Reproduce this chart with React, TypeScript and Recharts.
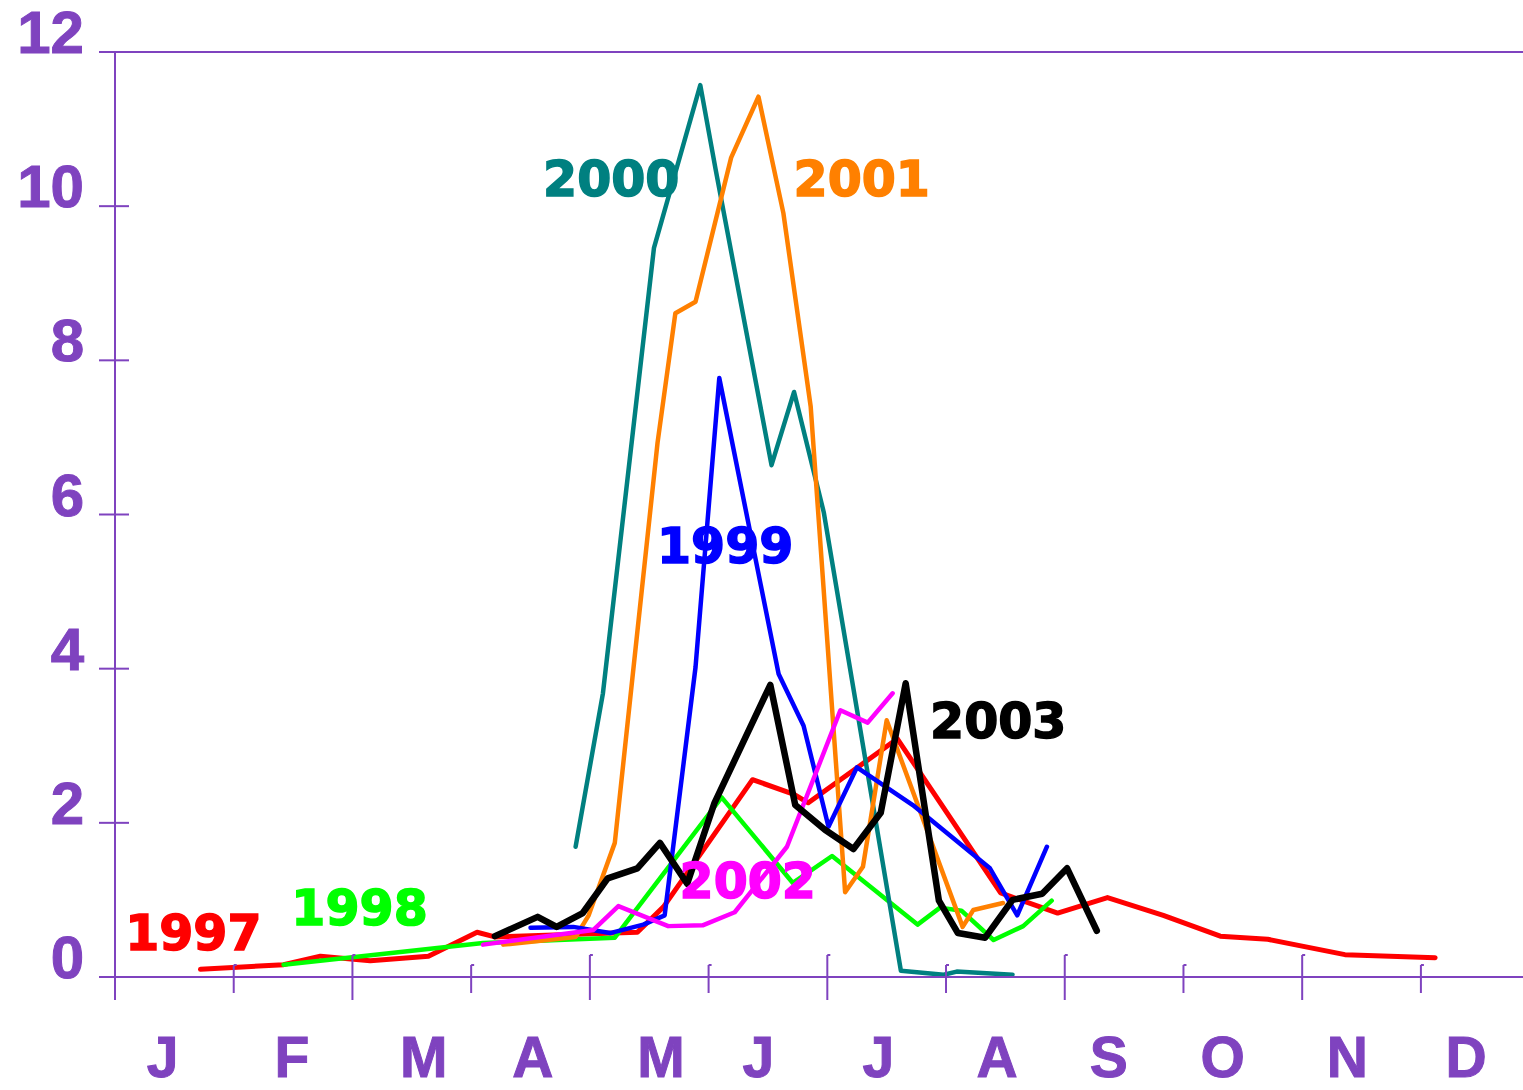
import React from 'react';
import { LineChart, Line, XAxis, YAxis, ReferenceLine, ReferenceDot } from 'recharts';

const PURPLE = '#7F43BF';

// x = month (0 = start of January), y = value
const months = ['J', 'F', 'M', 'A', 'M', 'J', 'J', 'A', 'S', 'O', 'N', 'D'];
const monthLabelPos = [0.4, 1.49, 2.6, 3.52, 4.6, 5.42, 6.43, 7.43, 8.37, 9.33, 10.38, 11.38];
const monthTicks = [1, 2, 3, 4, 5, 6, 7, 8, 9, 10, 11];
const yTicks = [0, 2, 4, 6, 8, 10, 12];

const s1997: [number, number][] = [
  [0.72, 0.1], [1.42, 0.16], [1.73, 0.27], [2.15, 0.21], [2.64, 0.27], [3.05, 0.58],
  [3.2, 0.52], [4.4, 0.58], [4.62, 0.91], [5.37, 2.56], [5.72, 2.37], [5.84, 2.26],
  [6.59, 3.09], [7.46, 1.09], [7.94, 0.83], [8.36, 1.03], [8.83, 0.8], [9.31, 0.53],
  [9.71, 0.49], [10.36, 0.29], [11.12, 0.25],
];
const s1998: [number, number][] = [
  [1.42, 0.16], [3.1, 0.44], [4.21, 0.51], [5.11, 2.33], [5.71, 1.22], [6.04, 1.57],
  [6.76, 0.68], [6.95, 0.9], [7.13, 0.86], [7.4, 0.48], [7.65, 0.66], [7.89, 0.99],
];
const s1999: [number, number][] = [
  [3.5, 0.64], [3.86, 0.65], [4.17, 0.57], [4.45, 0.68], [4.63, 0.8], [4.89, 4.02],
  [5.09, 7.77], [5.59, 3.93], [5.8, 3.26], [6.01, 1.95], [6.25, 2.72], [6.72, 2.23],
  [7.37, 1.41], [7.6, 0.8], [7.85, 1.69],
];
const s2000: [number, number][] = [
  [3.88, 1.69], [4.11, 3.68], [4.54, 9.46], [4.93, 11.57], [5.06, 10.47], [5.53, 6.64],
  [5.72, 7.59], [5.97, 6.03], [6.62, 0.08], [6.98, 0.03], [7.09, 0.07], [7.56, 0.03],
];
const s2001: [number, number][] = [
  [3.27, 0.42], [3.88, 0.52], [3.99, 0.8], [4.21, 1.74], [4.57, 6.93], [4.72, 8.61],
  [4.89, 8.76], [5.19, 10.63], [5.42, 11.42], [5.63, 9.91], [5.86, 7.4], [6.15, 1.1],
  [6.3, 1.43], [6.5, 3.33], [7.14, 0.65], [7.23, 0.87], [7.48, 0.96],
];
const s2002: [number, number][] = [
  [3.1, 0.42], [4.03, 0.61], [4.24, 0.92], [4.66, 0.66], [4.95, 0.67], [5.22, 0.84],
  [5.66, 1.69], [6.11, 3.46], [6.34, 3.3], [6.55, 3.68],
];
const s2003: [number, number][] = [
  [3.2, 0.53], [3.56, 0.78], [3.72, 0.65], [3.94, 0.83], [4.15, 1.28], [4.4, 1.41],
  [4.59, 1.74], [4.82, 1.21], [5.05, 2.26], [5.52, 3.79], [5.73, 2.23], [5.98, 1.91],
  [6.22, 1.66], [6.45, 2.13], [6.66, 3.81], [6.94, 0.99], [7.1, 0.57], [7.33, 0.51],
  [7.56, 1.0], [7.81, 1.08], [8.02, 1.41], [8.27, 0.6],
];

const series = [
  { name: '1997', pts: s1997, color: '#FF0000', width: 5, labelAt: [0.66, 0.57] },
  { name: '1998', pts: s1998, color: '#00FF00', width: 4.5, labelAt: [2.06, 0.9] },
  { name: '2000', pts: s2000, color: '#008080', width: 4.5, labelAt: [4.18, 10.36] },
  { name: '2001', pts: s2001, color: '#FF8000', width: 4.5, labelAt: [6.29, 10.36] },
  { name: '1999', pts: s1999, color: '#0000FF', width: 4.5, labelAt: [5.14, 5.6] },
  { name: '2002', pts: s2002, color: '#FF00FF', width: 4.5, labelAt: [5.33, 1.25] },
  { name: '2003', pts: s2003, color: '#000000', width: 6.5, labelAt: [7.44, 3.33] },
];

const toRows = (pts: [number, number][]) => pts.map(([m, v]) => ({ m, v }));

const XTick = (props: any) => {
  const { x, y, payload } = props;
  const val = payload.value as number;
  if (Number.isInteger(val)) {
    const long = val % 2 === 0;
    const top = long ? y - 22 : y - 12;
    const bottom = long ? y + 23 : y + 16;
    return (
      <g>
        <line x1={x} x2={x} y1={top} y2={bottom} stroke={PURPLE} strokeWidth={2} />
        <line x1={x} x2={x + 3} y1={top} y2={top} stroke={PURPLE} strokeWidth={2} />
      </g>
    );
  }
  const idx = monthLabelPos.indexOf(val);
  return (
    <text x={x} y={1077} textAnchor="middle" fill={PURPLE} stroke={PURPLE} strokeWidth={1}
      fontSize={57} fontWeight="bold" fontFamily="'Liberation Sans', Arial, sans-serif">
      {months[idx]}
    </text>
  );
};

const YTick = (props: any) => {
  const { x, y, payload } = props;
  return (
    <g>
      <line x1={x - 16} x2={x + 14} y1={y} y2={y} stroke={PURPLE} strokeWidth={2} />
      {payload.value === 0 && <line x1={x} x2={x} y1={y} y2={y + 23} stroke={PURPLE} strokeWidth={2} />}
      <text x={x - 31} y={y + 1} textAnchor="end" fill={PURPLE} stroke={PURPLE} strokeWidth={1}
        fontSize={60} fontWeight="bold" fontFamily="'Liberation Sans', Arial, sans-serif">
        {payload.value}
      </text>
    </g>
  );
};

export default function App() {
  return (
    <div style={{ position: 'absolute', left: 0, top: 0, width: 1523, height: 1090, background: '#fff' }}>
      <LineChart width={1523} height={1090} margin={{ top: 52, right: 0, bottom: 0, left: 0 }}>
        <XAxis
          type="number"
          dataKey="m"
          domain={[0, 11.86]}
          ticks={[...monthTicks, ...monthLabelPos]}
          interval={0}
          tickSize={0}
          tickMargin={0}
          height={113}
          tickLine={false}
          axisLine={{ stroke: PURPLE, strokeWidth: 2 }}
          tick={XTick}
        />
        <YAxis
          type="number"
          dataKey="v"
          domain={[0, 12]}
          ticks={yTicks}
          interval={0}
          width={115}
          tickSize={0}
          tickMargin={0}
          tickLine={false}
          axisLine={{ stroke: PURPLE, strokeWidth: 2 }}
          tick={YTick}
        />
        <ReferenceLine y={12} stroke={PURPLE} strokeWidth={2} />
        {series.map((s) => (
          <Line
            key={s.name}
            data={toRows(s.pts)}
            dataKey="v"
            type="linear"
            stroke={s.color}
            strokeWidth={s.width}
            strokeLinejoin="round"
            strokeLinecap="round"
            dot={false}
            activeDot={false}
            isAnimationActive={false}
          />
        ))}
        {series.map((s) => (
          <ReferenceDot
            key={'lbl' + s.name}
            x={s.labelAt[0]}
            y={s.labelAt[1]}
            r={0}
            stroke="none"
            fill="none"
            label={{
              value: s.name,
              position: 'center',
              fill: s.color,
              stroke: s.color,
              strokeWidth: 1.5,
              fontSize: 49,
              fontWeight: 'bold',
              fontFamily: "'DejaVu Sans', sans-serif",
            }}
          />
        ))}
      </LineChart>
    </div>
  );
}
